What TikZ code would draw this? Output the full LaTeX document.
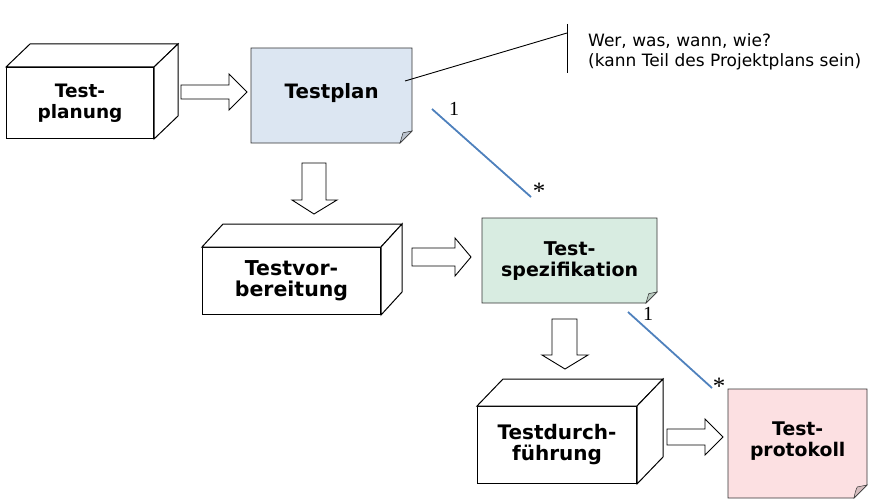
\documentclass[tikz,border=0pt]{standalone}
\usepackage{fontspec}
\setmainfont{DejaVu Sans}
\newfontfamily\labfont{Liberation Serif}
\definecolor{planblue}{RGB}{220,230,242}
\definecolor{spezgreen}{RGB}{216,236,225}
\definecolor{protpink}{RGB}{252,224,226}
\definecolor{assocblue}{RGB}{79,129,189}
\newcommand\notebg[6]{%
  \filldraw[noteborder, fill=#6] (#1,#2) -- (#3,#2) -- (#3,{#4-#5}) -- ({#3-#5},#4) -- (#1,#4) -- cycle;
  \filldraw[noteborder, fill=#6!85!black, line width=0.5pt] (#3,{#4-#5}) .. controls ({#3-0.5*#5},{#4-0.9*#5}) .. ({#3-0.75*#5},{#4-0.85*#5}) .. controls ({#3-0.9*#5},{#4-0.5*#5}) .. ({#3-#5},#4) -- cycle;}
\newcommand\cubesides[3]{% node, dx, dy
  \draw[cubeface] (#1.north west) -- ++(#2,-#3) -- ($(#1.north east)+(#2,-#3)$) -- (#1.north east) -- cycle;
  \draw[cubeface] (#1.north east) -- ++(#2,-#3) -- ($(#1.south east)+(#2,-#3)$) -- (#1.south east) -- cycle;}
\newcommand\boldsz[1]{\bfseries\fontsize{#1}{21}\selectfont}
\usetikzlibrary{calc}
\begin{document}
\begin{tikzpicture}[x=1pt,y=-1pt,
  cubeface/.style={draw=black, line width=1pt, fill=white, line join=miter},
  procnode/.style={cubeface, anchor=north west, inner sep=0pt, align=center},
  noteborder/.style={draw=black!80, line width=0.9pt},
  notetext/.style={anchor=north west, inner sep=0pt, align=center},
  blockarrow/.style={draw=black, fill=white, line width=0.9pt, line join=miter},
  assoc/.style={draw=assocblue, line width=1.8pt},
  multlab/.style={font=\labfont\fontsize{20}{20}\selectfont, inner sep=0pt},
  starlab/.style={font=\labfont\fontsize{25}{25}\selectfont, inner sep=0pt},
  calltext/.style={anchor=west, align=left, inner sep=0pt, font=\fontsize{17}{19.5}\selectfont}]
\useasboundingbox (0,0) rectangle (894,503);

% process cubes
\node[procnode, minimum width=147pt, minimum height=71pt, font=\boldsz{18.5}] (planung) at (6,67) {Test-\\planung};
\cubesides{planung}{24}{23}
\node[procnode, minimum width=178pt, minimum height=67pt, font=\boldsz{20.5}] (vorb) at (202,247) {Testvor-\\bereitung};
\cubesides{vorb}{21}{23}
\node[procnode, minimum width=159pt, minimum height=77pt, font=\boldsz{20}] (durch) at (477,406) {Testdurch-\\führung};
\cubesides{durch}{26}{27}

% documents (notes)
\notebg{251}{48}{412}{143}{12}{planblue}
\node[notetext, minimum width=161pt, minimum height=90pt, font=\boldsz{19.8}] (plan) at (251,48) {Testplan};
\notebg{482}{218}{657}{303}{11}{spezgreen}
\node[notetext, minimum width=175pt, minimum height=85pt, font=\boldsz{19}] (spez) at (482,218) {Test-\\spezifikation};
\notebg{728}{389}{867}{498}{13}{protpink}
\node[notetext, minimum width=139pt, minimum height=104pt, font=\boldsz{18.8}] (prot) at (728,389) {Test-\\protokoll};

% block arrows
\filldraw[blockarrow] (181,85) -- (229,85) -- (229,74) -- (247,92) -- (229,110) -- (229,99) -- (181,99) -- cycle;
\filldraw[blockarrow] (412,248) -- (455,248) -- (455,238) -- (471,257) -- (455,276) -- (455,266) -- (412,266) -- cycle;
\filldraw[blockarrow] (667,429) -- (705,429) -- (705,419) -- (723,437) -- (705,455) -- (705,445) -- (667,445) -- cycle;
\filldraw[blockarrow] (302,163) -- (326,163) -- (326,200) -- (337,200) -- (314,214) -- (292,200) -- (302,200) -- cycle;
\filldraw[blockarrow] (552,319) -- (577,319) -- (577,355) -- (588,355) -- (565,369) -- (542,355) -- (552,355) -- cycle;

% associations
\coordinate (a1s) at (432,109);
\coordinate (a1e) at (531,197);
\draw[assoc] (a1s) -- (a1e);
\node[multlab] (m1a) at (454,109) {1};
\node[starlab] (m1b) at (539,191) {*};
\coordinate (a2s) at (628,312);
\coordinate (a2e) at (712,388);
\draw[assoc] (a2s) -- (a2e);
\node[multlab] (m2a) at (648,314) {1};
\node[starlab] (m2b) at (719,386) {*};

% callout
\coordinate (cbar) at (567,33);
\coordinate (cfrom) at (405,81);
\draw[line width=0.9pt] (cfrom) -- (cbar);
\draw[line width=0.9pt] (567,24) -- (567,73);
\node[calltext] (call) at (588,52) {Wer, was, wann, wie?\\(kann Teil des Projektplans sein)};
\end{tikzpicture}
\end{document}
